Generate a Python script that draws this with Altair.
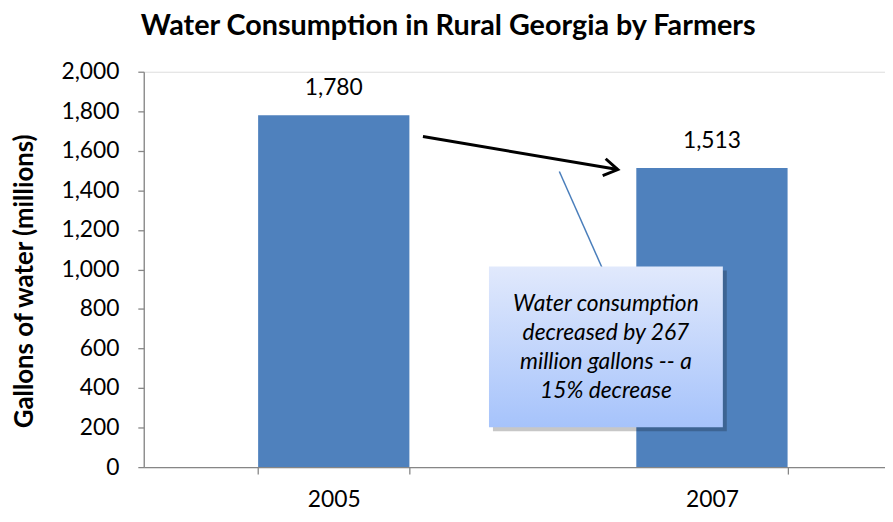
import altair as alt
import pandas as pd

# ---- data ----
years = ["2005", "2007"]
gallons = [1780, 1513]
y_ticks = [0, 200, 400, 600, 800, 1000, 1200, 1400, 1600, 1800, 2000]

# annotation anchors (data units on the y axis, year bands on x)
arrow_from_year, arrow_from_value = "2005", 1672
arrow_to_year, arrow_to_value = "2007", 1505
callout_year = "2007"
callout_top, callout_bottom = 1015, 202
callout_first_line_value = 823
connector_top, connector_bottom = 1495, 1010
callout_lines = ["Water consumption", "decreased by 267", "million gallons -- a", "15% decrease"]

FONT = "Lato"
BAR = "#4f81bd"
AXIS = "#868686"

bars_df = pd.DataFrame({"year": years, "value": gallons})

x_scale = alt.Scale(domain=years, paddingInner=0.6, paddingOuter=0.28, align=0.54)
y_scale = alt.Scale(domain=[0, 2000])

x_enc = alt.X(
    "year:N",
    scale=x_scale,
    title=None,
    axis=alt.Axis(
        labelAngle=0, labelFont=FONT, labelFontSize=23, labelColor="#000000",
        labelPadding=15, domainColor=AXIS, tickColor=AXIS, tickSize=7,
        tickBand="extent", domainWidth=1.3, tickWidth=1.3,
    ),
)
y_enc = alt.Y(
    "value:Q",
    scale=y_scale,
    title="Gallons of water (millions)",
    axis=alt.Axis(
        values=y_ticks, tickCount=len(y_ticks) + 5, format=",d", grid=False,
        labelOverlap=False, labelFont=FONT, labelFontSize=23,
        labelColor="#000000", labelPadding=19, domainColor=AXIS, tickColor=AXIS,
        tickSize=6, domainWidth=1.3, tickWidth=1.3, titleFont=FONT,
        titleFontSize=26, titleFontWeight="bold", titleColor="#000000",
        titlePadding=24, titleY=211,
    ),
)

bars = alt.Chart(bars_df).mark_bar(color=BAR).encode(x=x_enc, y=y_enc)

labels = alt.Chart(bars_df).mark_text(
    font=FONT, fontSize=23, color="#000000", baseline="alphabetic", dy=-20
).encode(x="year:N", y="value:Q", text=alt.Text("value:Q", format=",d"))

# arrow from 2005 to 2007
arrow_df = pd.DataFrame({
    "year": [arrow_from_year], "year2": [arrow_to_year],
    "value": [arrow_from_value], "value2": [arrow_to_value],
})
arrow = alt.Chart(arrow_df).mark_rule(
    color="#000000", strokeWidth=3, xOffset=90, x2Offset=-95
).encode(x="year:N", x2="year2", y="value:Q", y2="value2:Q")

head_df = pd.DataFrame({"year": [arrow_to_year], "value": [arrow_to_value]})
head = alt.Chart(head_df).mark_point(
    shape="M-1,-0.62L0,0L-1,0.62", filled=False, stroke="#000000",
    strokeWidth=3, size=780, angle=10, xOffset=-95, opacity=1,
).encode(x="year:N", y="value:Q")

# connector line of the callout
conn_df = pd.DataFrame({
    "year": [callout_year], "year2": [callout_year],
    "value": [connector_top], "value2": [connector_bottom],
})
connector = alt.Chart(conn_df).mark_rule(
    color="#4a7ebb", strokeWidth=1.5, xOffset=-154, x2Offset=-111
).encode(x="year:N", x2="year2", y="value:Q", y2="value2:Q")

# callout box
box_df = pd.DataFrame({"year": [callout_year], "value": [callout_top], "value2": [callout_bottom]})
shadow = alt.Chart(box_df).mark_rect(
    width=236, xOffset=-103, yOffset=4, y2Offset=4, fill="#000000", opacity=0.22
).encode(x="year:N", y="value:Q", y2="value2:Q")
box = alt.Chart(box_df).mark_rect(
    width=236, xOffset=-107,
    fill=alt.Gradient(
        gradient="linear", x1=0, x2=0, y1=0, y2=1,
        stops=[alt.GradientStop(color="#e1e9fc", offset=0),
               alt.GradientStop(color="#a6c3fb", offset=1)],
    ),
).encode(x="year:N", y="value:Q", y2="value2:Q")

text_df = pd.DataFrame({"year": [callout_year], "value": [callout_first_line_value], "lines": [callout_lines]})
callout_text = alt.Chart(text_df).mark_text(
    font=FONT, fontSize=23, fontStyle="italic", color="#000000",
    align="center", baseline="middle", lineHeight=29, xOffset=-107,
).encode(x="year:N", y="value:Q", text="lines")

chart = alt.layer(
    bars, labels, arrow, head, connector, shadow, box, callout_text
).properties(
    width=885,
    height=506,
    autosize=alt.AutoSizeParams(type="fit", contains="padding"),
    padding={"left": 3, "top": 2, "right": 0, "bottom": 0},
    title=alt.TitleParams(
        "Water Consumption in Rural Georgia by Farmers",
        font=FONT, fontSize=29, fontWeight="bold", color="#000000",
        anchor="middle", frame="bounds", offset=20,
    ),
).configure_view(stroke=None).configure(background="#ffffff")

chart.save("out.html", embed_options={"renderer": "svg", "actions": False})
